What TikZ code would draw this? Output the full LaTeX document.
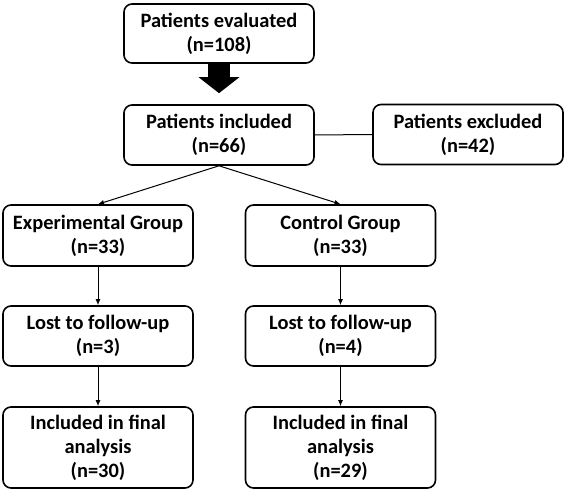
\documentclass[tikz,border=0pt]{standalone}
\usepackage{fontspec}
\setmainfont{Carlito}
\usetikzlibrary{arrows.meta,positioning,calc}

\begin{document}
\begin{tikzpicture}[x=1bp,y=-1bp,font=\fontsize{20.5}{24}\selectfont\bfseries,>={Latex[length=6bp,width=5bp]},
  box/.style={draw,line width=1.6bp,rounded corners=8bp,inner sep=0pt,align=center,minimum width=190bp},
  link/.style={->,line width=1bp},
  bigarrow/.style={line width=22bp,-{Triangle[width=40bp,length=16bp]},shorten >=11bp}]
  \useasboundingbox (0,0) rectangle (566,493);
  \node[box,minimum height=59bp] (eval) at (219,33.5) {Patients evaluated\\(n=108)};
  \node[box,minimum height=60bp] (incl) at (219,135) {Patients included\\(n=66)};
  \node[box,minimum height=60bp] (excl) at (468,134.5) {Patients excluded\\(n=42)};
  \node[box,minimum height=61bp] (exp) at (98,235.5) {Experimental Group\\(n=33)};
  \node[box,minimum height=61bp] (ctrl) at (340.5,235.5) {Control Group\\(n=33)};
  \node[box,minimum height=60bp] (explost) at (98,336) {Lost to follow-up\\(n=3)};
  \node[box,minimum height=60bp] (ctrllost) at (340.5,336) {Lost to follow-up\\(n=4)};
  \node[box,minimum height=81bp] (expfin) at (98,447.5) {Included in final\\analysis\\(n=30)};
  \node[box,minimum height=81bp] (ctrlfin) at (340.5,447.5) {Included in final\\analysis\\(n=29)};
  \draw[bigarrow] (eval.south) -- (incl.north);
  \draw[line width=1bp] (incl.east) -- (excl.west);
  \draw[link] (incl.south) -- (exp.north);
  \draw[link] (incl.south) -- (ctrl.north);
  \draw[link] (exp) -- (explost);
  \draw[link] (explost) -- (expfin);
  \draw[link] (ctrl) -- (ctrllost);
  \draw[link] (ctrllost) -- (ctrlfin);
\end{tikzpicture}
\end{document}
